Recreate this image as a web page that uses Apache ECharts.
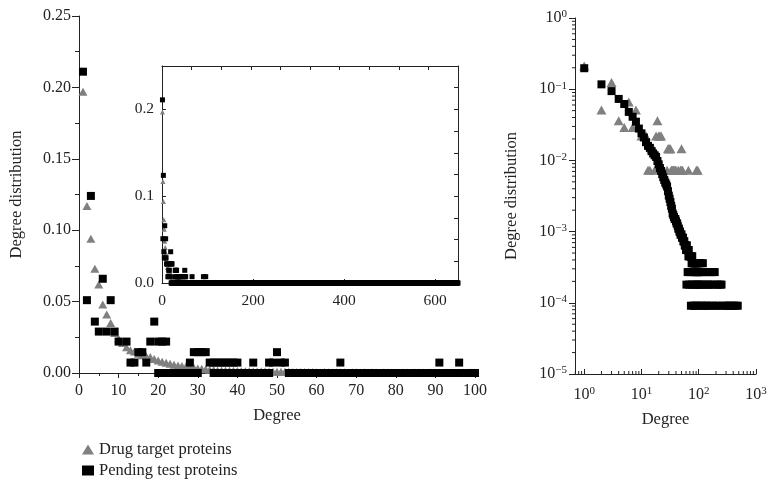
<!DOCTYPE html>
<html>
<head>
<meta charset="utf-8">
<script src="https://cdn.jsdelivr.net/npm/echarts@6/dist/echarts.min.js"></script>
<style>
  html, body { margin: 0; background: #fff; }
  #chart { width: 775px; height: 487px; }
</style>
</head>
<body>
<div id="chart"></div>
<script>
// drug target proteins: degree / fraction of nodes
var drugDeg = [1, 2, 3, 4, 5, 6, 7, 8, 9, 10, 11, 12, 13, 14, 15, 16, 17, 18, 19, 20,
  21, 22, 23, 24, 25, 26, 27, 28, 29, 30, 31, 32, 33, 34, 35, 36, 37, 38, 39, 40,
  41, 42, 43, 44, 45, 46, 47, 48, 49, 50, 51, 52, 53, 54, 55, 56, 57, 58, 59, 60,
  61, 62, 63, 64, 65, 66, 67, 68, 69, 70, 71, 72, 73, 74, 75, 76, 77, 78, 79, 80,
  81, 82, 83, 84, 85, 86, 87, 88, 89, 90, 91, 92, 93, 94, 95, 96, 97, 98, 99, 100,
  102, 105, 108, 110, 113, 116, 118, 120, 125, 130, 135, 140, 145, 150, 155, 160,
  170, 175, 180, 190, 200, 210, 220, 235, 250, 270, 300, 330, 360, 400, 440, 480];
var drugVal = [0.197, 0.117, 0.094, 0.073, 0.062, 0.048, 0.041, 0.035, 0.028, 0.024,
  0.021, 0.018, 0.016, 0.015, 0.0135, 0.0125, 0.0118, 0.0112, 0.0098, 0.0088,
  0.0078, 0.0071, 0.0064, 0.0058, 0.0053, 0.0049, 0.0046, 0.0043, 0.0037, 0.0032,
  0.0029, 0.0026, 0.0023, 0.0021, 0.0018, 0.0017, 0.0016, 0.0015, 0.0015, 0.0014,
  0.0013, 0.0013, 0.0012, 0.0011, 0.0011, 0.001, 0.001, 0.00091, 0.00091, 0.00091,
  0.00082, 0.00082, 0.00082, 0.00073, 0.00073, 0.00073, 0.00064, 0.00064, 0.00064, 0.00055,
  0.00018, 0.00064, 0.00055, 0.00027, 0.00055, 0.00045, 0.00055, 0.00018, 0.00045, 0.00045,
  0.00027, 0.00045, 0.000091, 0.00045, 0.00036, 0.00018, 0.00045, 0.00036, 0.00027, 0.00036,
  0.000091, 0.00036, 0.00036, 0.00018, 0.00036, 0.00027, 0.00036, 0.000091, 0.00036, 0.00027,
  0.00036, 0.00018, 0.00027, 0.00036, 0.000091, 0.00036, 0.00027, 0.00018, 0.00027, 0.00036,
  0.00027, 0.00018, 0.00036, 0.000091, 0.00027, 0.00018, 0.00036, 0.000091, 0.00027, 0.00018,
  0.000091, 0.00027, 0.00018, 0.000091, 0.00027, 0.00018, 0.000091, 0.00027, 0.00018, 0.00027,
  0.000091, 0.00018, 0.000091, 0.00018, 0.00018, 0.000091, 0.000091, 0.000091, 0.000091, 0.000091,
  0.000091, 0.000091];

// pending test proteins: nonzero points
var pendingDeg = [1, 2, 3, 4, 5, 6, 7, 8, 9, 10, 12, 13, 14, 15, 16, 17, 18, 19, 20, 21, 22,
  28, 29, 30, 31, 32, 33, 34, 35, 36, 37, 38, 39, 40, 44, 48, 49, 50, 51, 52, 66, 91, 96];
var pendingVal = [0.211, 0.051, 0.124, 0.036, 0.029, 0.066, 0.029, 0.051, 0.029, 0.022,
  0.022, 0.0073, 0.0073, 0.0146, 0.0146, 0.0073, 0.022, 0.036, 0.022, 0.022, 0.022,
  0.0073, 0.0146, 0.0146, 0.0146, 0.0146, 0.0073, 0.0073, 0.0073, 0.0073, 0.0073, 0.0073,
  0.0073, 0.0073, 0.0073, 0.0073, 0.0073, 0.0146, 0.0073, 0.0073, 0.0073, 0.0073, 0.0073];
// degree ranges where pending test proteins sit at 0
var pendingZeroRanges = [[20, 30], [34, 48], [53, 650]];

var mainXTicks = [0, 100, 10];
var mainYTicks = [0, 0.25, 0.05];
var insetXTicks = [0, 650, 200];
var insetYTicks = [0, 0.25, 0.1];
var logXRange = [0.69, 1000];
var logYRange = [1e-5, 1];

var FONT = '"Liberation Serif", "DejaVu Serif", serif';
var INK = '#222';
var GRAY = '#808080';

function pairs(xs, ys) {
  return xs.map(function (x, i) { return [x, ys[i]]; });
}
var drugPts = pairs(drugDeg, drugVal);
var pendingPts = pairs(pendingDeg, pendingVal);
var pendingZeroPts = [];
pendingZeroRanges.forEach(function (r) {
  for (var d = r[0]; d <= r[1]; d++) pendingZeroPts.push([d, 0]);
});
var pendingLinPts = pendingZeroPts.concat(pendingPts);

// minor tick values for the log axes (2..9 per decade)
function logMinors(lo, hi) {
  var out = [];
  for (var e = Math.floor(Math.log10(lo)); e < Math.ceil(Math.log10(hi)); e++) {
    for (var m = 2; m <= 9; m++) {
      var v = m * Math.pow(10, e);
      if (v > lo && v < hi) out.push(v);
    }
  }
  return out;
}

function powLabel(v) {
  var l = Math.log10(v);
  var e = Math.round(l);
  if (Math.abs(l - e) > 1e-6) return '';
  return '10{s|' + (e < 0 ? '\u2212' + (-e) : e) + '}';
}
var powRich = {
  s: { fontSize: 11, fontFamily: FONT, color: INK, verticalAlign: 'top', padding: [0, 0, 7, 0] }
};

function axisLine() { return { show: true, onZero: false, lineStyle: { color: INK, width: 1 } }; }
var labelStyle = { fontFamily: FONT, fontSize: 16, color: INK };
var insetLabelStyle = { fontFamily: FONT, fontSize: 15.5, color: INK };
var nameStyle = { fontFamily: FONT, fontSize: 16.5, color: INK };

var chart = echarts.init(document.getElementById('chart'));
chart.setOption({
  animation: false,
  backgroundColor: '#fff',
  legend: {
    orient: 'vertical',
    left: 77,
    top: 436,
    itemWidth: 12,
    itemHeight: 10,
    itemGap: 4,
    textStyle: { fontFamily: FONT, fontSize: 16.5, color: INK },
    data: [
      { name: 'Drug target proteins', icon: 'triangle', itemStyle: { color: GRAY } },
      { name: 'Pending test proteins', icon: 'rect', itemStyle: { color: '#000' } }
    ]
  },
  grid: [
    { left: 77, top: 16, width: 398, height: 357 },
    { left: 162, top: 66, width: 296, height: 217 },
    { left: 575, top: 18, width: 181, height: 356 }
  ],
  xAxis: [
    {
      gridIndex: 0, type: 'value', min: mainXTicks[0], max: mainXTicks[1], interval: mainXTicks[2],
      name: 'Degree', nameLocation: 'middle', nameGap: 34, nameTextStyle: nameStyle,
      axisLine: axisLine(),
      axisTick: { show: true, length: 5, lineStyle: { color: INK } },
      minorTick: { show: true, splitNumber: 2, length: 3, lineStyle: { color: INK } },
      axisLabel: Object.assign({ margin: 10 }, labelStyle),
      splitLine: { show: false }
    },
    {
      gridIndex: 1, type: 'value', min: insetXTicks[0], max: insetXTicks[1], interval: insetXTicks[2],
      axisLine: axisLine(),
      axisTick: { show: true, inside: true, length: 4, lineStyle: { color: INK } },
      axisLabel: Object.assign({ margin: 10, showMaxLabel: false }, insetLabelStyle),
      splitLine: { show: false }
    },
    {
      gridIndex: 1, type: 'value', position: 'top', min: 0, max: 650, interval: 65,
      axisLine: axisLine(),
      axisTick: { show: true, inside: true, length: 4, lineStyle: { color: INK } },
      axisLabel: { show: false },
      splitLine: { show: false }
    },
    {
      gridIndex: 2, type: 'log', logBase: 10, min: logXRange[0], max: logXRange[1],
      name: 'Degree', nameLocation: 'middle', nameGap: 37, nameTextStyle: nameStyle,
      axisLine: axisLine(),
      axisTick: { show: true, inside: true, length: 5, lineStyle: { color: INK } },
      axisLabel: Object.assign({ margin: 12, formatter: powLabel, rich: powRich }, labelStyle),
      splitLine: { show: false }
    }
  ],
  yAxis: [
    {
      gridIndex: 0, type: 'value', min: mainYTicks[0], max: mainYTicks[1], interval: mainYTicks[2],
      name: 'Degree distribution', nameLocation: 'middle', nameGap: 54, nameTextStyle: nameStyle,
      axisLine: axisLine(),
      axisTick: { show: true, length: 7, lineStyle: { color: INK } },
      minorTick: { show: true, splitNumber: 2, length: 4, lineStyle: { color: INK } },
      axisLabel: Object.assign({ margin: 8, formatter: function (v) { return v.toFixed(2); } }, labelStyle),
      splitLine: { show: false }
    },
    {
      gridIndex: 1, type: 'value', min: insetYTicks[0], max: insetYTicks[1], interval: insetYTicks[2],
      axisLine: axisLine(),
      axisTick: { show: true, inside: true, length: 4, lineStyle: { color: INK } },
      axisLabel: Object.assign({ margin: 8, showMaxLabel: false, formatter: function (v) { return v.toFixed(1); } }, insetLabelStyle),
      splitLine: { show: false }
    },
    {
      gridIndex: 1, type: 'value', position: 'right', min: 0, max: 0.25, interval: 0.025,
      axisLine: axisLine(),
      axisTick: { show: true, inside: true, length: 4, lineStyle: { color: INK } },
      axisLabel: { show: false },
      splitLine: { show: false }
    },
    {
      gridIndex: 2, type: 'log', logBase: 10, min: logYRange[0], max: logYRange[1],
      name: 'Degree distribution', nameLocation: 'middle', nameGap: 55, nameTextStyle: nameStyle,
      axisLine: axisLine(),
      axisTick: { show: true, length: 6, lineStyle: { color: INK } },
      axisLabel: Object.assign({ margin: 8, formatter: powLabel, rich: powRich }, labelStyle),
      splitLine: { show: false }
    }
  ],
  series: [
    // main linear panel
    { name: 'Drug target proteins', type: 'scatter', xAxisIndex: 0, yAxisIndex: 0,
      symbol: 'triangle', symbolSize: [9, 8], itemStyle: { color: GRAY, opacity: 1 }, data: drugPts },
    { name: 'Pending test proteins', type: 'scatter', xAxisIndex: 0, yAxisIndex: 0,
      symbol: 'rect', symbolSize: 8, itemStyle: { color: '#000', opacity: 1 }, data: pendingLinPts },
    // inset
    { name: 'Drug target proteins', type: 'scatter', xAxisIndex: 1, yAxisIndex: 1,
      symbol: 'triangle', symbolSize: 5, itemStyle: { color: GRAY, opacity: 1 }, data: drugPts },
    { name: 'Pending test proteins', type: 'scatter', xAxisIndex: 1, yAxisIndex: 1,
      symbol: 'rect', symbolSize: 5, itemStyle: { color: '#000', opacity: 1 }, data: pendingLinPts },
    // log-log panel (markers swapped as in the original figure)
    { name: 'Drug target proteins', type: 'scatter', xAxisIndex: 3, yAxisIndex: 3,
      symbol: 'triangle', symbolSize: [10, 9], itemStyle: { color: GRAY, opacity: 1 }, data: pendingPts },
    { name: 'Pending test proteins', type: 'scatter', xAxisIndex: 3, yAxisIndex: 3,
      symbol: 'rect', symbolSize: 8, itemStyle: { color: '#000', opacity: 1 }, data: drugPts },
    // minor ticks on the log axes
    { type: 'custom', xAxisIndex: 3, yAxisIndex: 3, silent: true, clip: false,
      data: logMinors(logXRange[0], logXRange[1]).map(function (v) { return [v, logYRange[0]]; }),
      renderItem: function (params, api) {
        var p = api.coord([api.value(0), api.value(1)]);
        return { type: 'line', shape: { x1: p[0], y1: p[1], x2: p[0], y2: p[1] - 3 }, style: { stroke: INK, lineWidth: 1 } };
      } },
    { type: 'custom', xAxisIndex: 3, yAxisIndex: 3, silent: true, clip: false,
      data: logMinors(logYRange[0], logYRange[1]).map(function (v) { return [logXRange[0], v]; }),
      renderItem: function (params, api) {
        var p = api.coord([api.value(0), api.value(1)]);
        return { type: 'line', shape: { x1: p[0], y1: p[1], x2: p[0] - 3, y2: p[1] }, style: { stroke: INK, lineWidth: 1 } };
      } }
  ]
});
</script>
</body>
</html>
